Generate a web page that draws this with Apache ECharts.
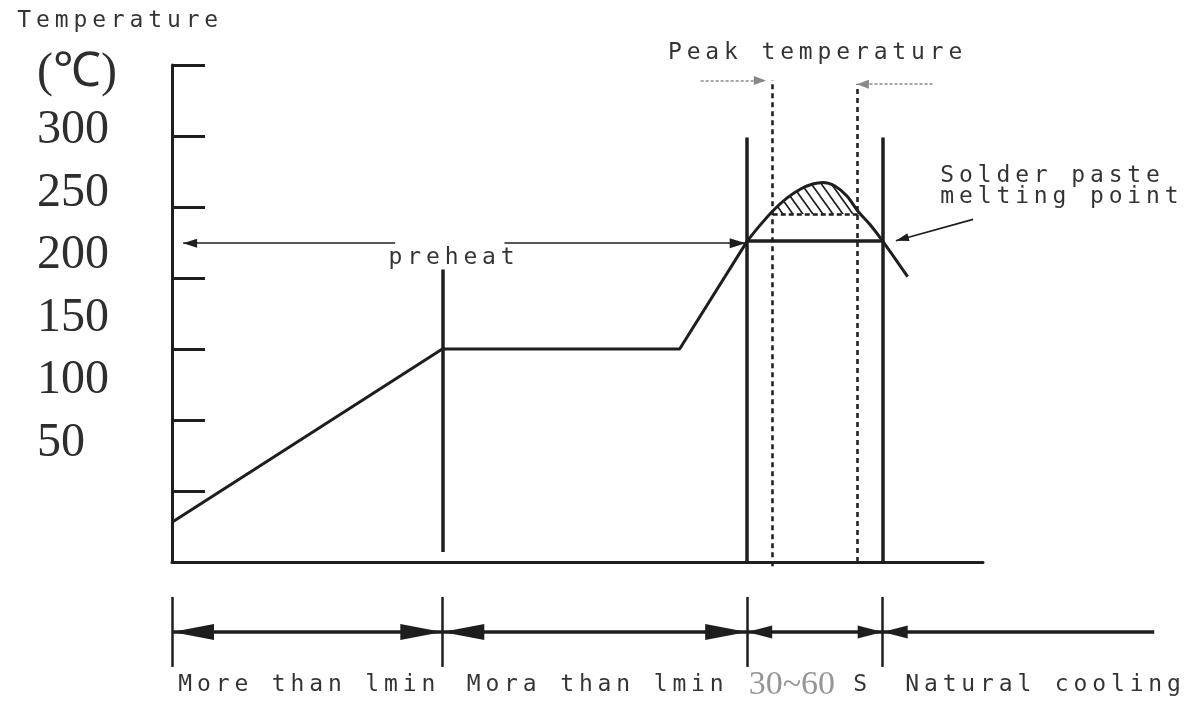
<!DOCTYPE html>
<html>
<head>
<meta charset="utf-8">
<title>Reflow soldering temperature profile</title>
<script src="https://cdn.jsdelivr.net/npm/echarts@6/dist/echarts.min.js"></script>
<style>
  html, body { margin: 0; padding: 0; background: #fff; }
  #chart { width: 1185px; height: 701px; }
</style>
</head>
<body>
<div id="chart"></div>
<script>
// x = time (arbitrary units), y = temperature in degrees C
const profile = [[0, 28], [90, 150], [169, 150], [191.5, 226]]
const reflow = [[191.5, 226], [195.3, 236], [200, 247.2], [204.7, 256.3], [209.3, 262.7], [213.3, 266.2],
  [216.7, 267.3], [220.7, 264.8], [224.7, 257.7], [228.3, 247.2], [232.3, 237.8], [236.6, 226], [244.9, 201]]
const peakStart = 200
const peakEnd = 228.3
const hatchLevel = 245
const meltLevel = 226
const tempTicks = [50, 100, 150, 200, 250, 300]
const unitLabel = '(℃)'
const phaseEdges = [0, 90, 191.5, 236.6]
const timelineEnd = 327
const phaseLabels = ['More than lmin', 'Mora than lmin', '30~60', 'Natural cooling']

const ink = '#1e1e1e'
const mono = 'DejaVu Sans Mono'

// plot area and its ranges, the overlay grid covers the whole page with the same scale
const W = 1185
const H = 701
const plot = {left: 172, right: 202, top: 65, bottom: 139}
const xMax = 270
const yMax = 350
const xPerPx = xMax / (W - plot.left - plot.right)
const yPerPx = yMax / (H - plot.top - plot.bottom)

// wrap every char in its own fixed width box, the original font is widely spaced
function spaced (text) {
  return text.split('').map(ch => '{c|' + ch + '}').join('')
}

function hatchPattern () {
  const c = document.createElement('canvas')
  c.width = 10
  c.height = 14
  const g = c.getContext('2d')
  g.strokeStyle = ink
  g.lineWidth = 1.6
  g.beginPath()
  g.moveTo(0, 0); g.lineTo(10, 14)
  g.moveTo(-2, 11.2); g.lineTo(2, 16.8)
  g.moveTo(8, -2.8); g.lineTo(12, 2.8)
  g.stroke()
  return c
}

// one guide line, heads = [head at start, head at end], head = [width, length]
function seg (from, to, lineStyle, heads) {
  heads = heads || []
  const end = (coord, h) => h
    ? {coord: coord, symbol: 'triangle', symbolSize: h, symbolOffset: [0, h[1] / 2]}
    : {coord: coord, symbol: 'none'}
  const a = end(from, heads[0])
  a.lineStyle = lineStyle
  return [a, end(to, heads[1])]
}

const solid = {color: ink, width: 3.5, type: 'solid'}
const thin = {color: ink, width: 1.6, type: 'solid'}
const dashed = {color: '#222', width: 2.6, type: [5, 4]}
const dotted = {color: '#888', width: 1.6, type: [3, 2]}

const bigHead = [16, 42]
const smallHead = [13, 25]

const guides = [
  // phase borders
  seg([phaseEdges[1], 7], [phaseEdges[1], 206], solid),
  seg([phaseEdges[2], 0], [phaseEdges[2], 299], solid),
  seg([phaseEdges[3], 0], [phaseEdges[3], 299], solid),
  // peak window
  seg([peakStart, -3], [peakStart, 339.5], dashed),
  seg([peakEnd, 0], [peakEnd, 336.5], dashed),
  seg([peakStart, hatchLevel], [peakEnd, hatchLevel], {color: ink, width: 2.5, type: [5, 3]}),
  seg([176, 339], [197.7, 339], dotted, [null, [9, 12]]),
  seg([253.2, 336.5], [228, 336.5], dotted, [null, [9, 12]]),
  // melting point
  seg([phaseEdges[2], meltLevel], [phaseEdges[3], meltLevel], solid),
  seg([266.7, 241.3], [241, 226.3], thin, [null, [8, 13]]),
  // preheat span
  seg([74.3, 224.5], [3.7, 224.5], thin, [null, [9, 14]]),
  seg([110.7, 224.5], [191, 224.5], thin, [null, [10, 16]])
]

// timeline under the chart
phaseEdges.forEach(t => guides.push(seg([t, -24.6], [t, -73.9], {color: ink, width: 2.5, type: 'solid'})))
guides.push(seg([phaseEdges[0], -49.3], [phaseEdges[1], -49.3], solid, [bigHead, bigHead]))
guides.push(seg([phaseEdges[1], -49.3], [phaseEdges[2], -49.3], solid, [bigHead, bigHead]))
guides.push(seg([phaseEdges[2], -49.3], [phaseEdges[3], -49.3], solid, [smallHead, smallHead]))
guides.push(seg([phaseEdges[3], -49.3], [timelineEnd, -49.3], solid, [smallHead, null]))

const notes = [
  {value: [-52.3, 381], text: spaced('Temperature')},
  {value: [164.3, 358.5], text: spaced('Peak temperature')},
  {value: [255, 271.8], text: spaced('Solder paste')},
  {value: [255, 256.7], text: spaced('melting point')},
  {value: [71.3, 214], text: spaced('preheat')},
  {value: [1.3, -86.5], text: spaced(phaseLabels[0])},
  {value: [97.3, -86.5], text: spaced(phaseLabels[1])},
  {value: [192, -86.5], text: '{n|' + phaseLabels[2] + '}{s|S}'},
  {value: [243.3, -86.5], text: spaced(phaseLabels[3])}
]

const hidden = {show: false}

const myChart = echarts.init(document.getElementById('chart'))
myChart.setOption({
  animation: false,
  backgroundColor: '#fff',
  grid: [
    plot,
    {left: 0, right: 0, top: 0, bottom: 0}
  ],
  xAxis: [
    {
      type: 'value',
      min: 0,
      max: xMax,
      axisLine: {lineStyle: {color: ink, width: 3}},
      axisTick: hidden,
      axisLabel: hidden,
      splitLine: hidden
    },
    {
      type: 'value',
      gridIndex: 1,
      show: false,
      min: -plot.left * xPerPx,
      max: xMax + plot.right * xPerPx
    }
  ],
  yAxis: [
    {
      type: 'value',
      min: 0,
      max: yMax,
      interval: 50,
      axisLine: {show: true, lineStyle: {color: ink, width: 3}},
      axisTick: {show: true, inside: true, length: 33, lineStyle: {color: ink, width: 3}},
      axisLabel: hidden,
      splitLine: hidden
    },
    {
      // the printed scale drifts from the tick marks, so it gets its own axis
      type: 'value',
      position: 'left',
      min: -45.2,
      max: 352.4,
      axisLine: hidden,
      axisTick: hidden,
      splitLine: hidden,
      axisLabel: {
        customValues: tempTicks.concat([346]),
        formatter: v => v > 300 ? unitLabel : String(v),
        align: 'left',
        margin: 135,
        fontFamily: 'Liberation Serif',
        fontSize: 48,
        color: '#2e2e2e'
      }
    },
    {
      type: 'value',
      gridIndex: 1,
      show: false,
      min: -plot.bottom * yPerPx,
      max: yMax + plot.top * yPerPx
    }
  ],
  series: [
    {
      name: 'profile',
      type: 'line',
      data: profile,
      symbol: 'none',
      clip: false,
      silent: true,
      lineStyle: {color: ink, width: 3}
    },
    {
      name: 'reflow',
      type: 'line',
      data: reflow,
      smooth: 0.3,
      symbol: 'none',
      clip: false,
      silent: true,
      lineStyle: {color: ink, width: 3}
    },
    {
      name: 'peak',
      type: 'line',
      data: reflow.filter(p => p[0] >= peakStart && p[0] <= peakEnd),
      smooth: 0.3,
      symbol: 'none',
      clip: false,
      silent: true,
      lineStyle: {width: 0},
      areaStyle: {origin: hatchLevel, opacity: 1, color: {image: hatchPattern(), repeat: 'repeat'}}
    },
    {
      name: 'guides',
      type: 'line',
      xAxisIndex: 1,
      yAxisIndex: 2,
      data: [],
      clip: false,
      silent: true,
      markLine: {
        silent: true,
        animation: false,
        symbol: ['none', 'none'],
        label: hidden,
        emphasis: {disabled: true},
        itemStyle: {color: ink},
        data: guides
      }
    },
    {
      name: 'notes',
      type: 'scatter',
      xAxisIndex: 1,
      yAxisIndex: 2,
      symbolSize: 0,
      clip: false,
      silent: true,
      data: notes.map(n => ({
        value: n.value,
        label: {formatter: n.text}
      })),
      label: {
        show: true,
        position: 'inside',
        align: 'left',
        verticalAlign: 'middle',
        rich: {
          c: {width: 18.7, align: 'center', fontFamily: mono, fontSize: 23, color: '#000'},
          n: {fontFamily: 'Liberation Serif', fontSize: 34, color: '#7a7a7a'},
          s: {width: 32, align: 'right', fontFamily: mono, fontSize: 23, color: '#000'}
        }
      }
    }
  ]
})
</script>
</body>
</html>
